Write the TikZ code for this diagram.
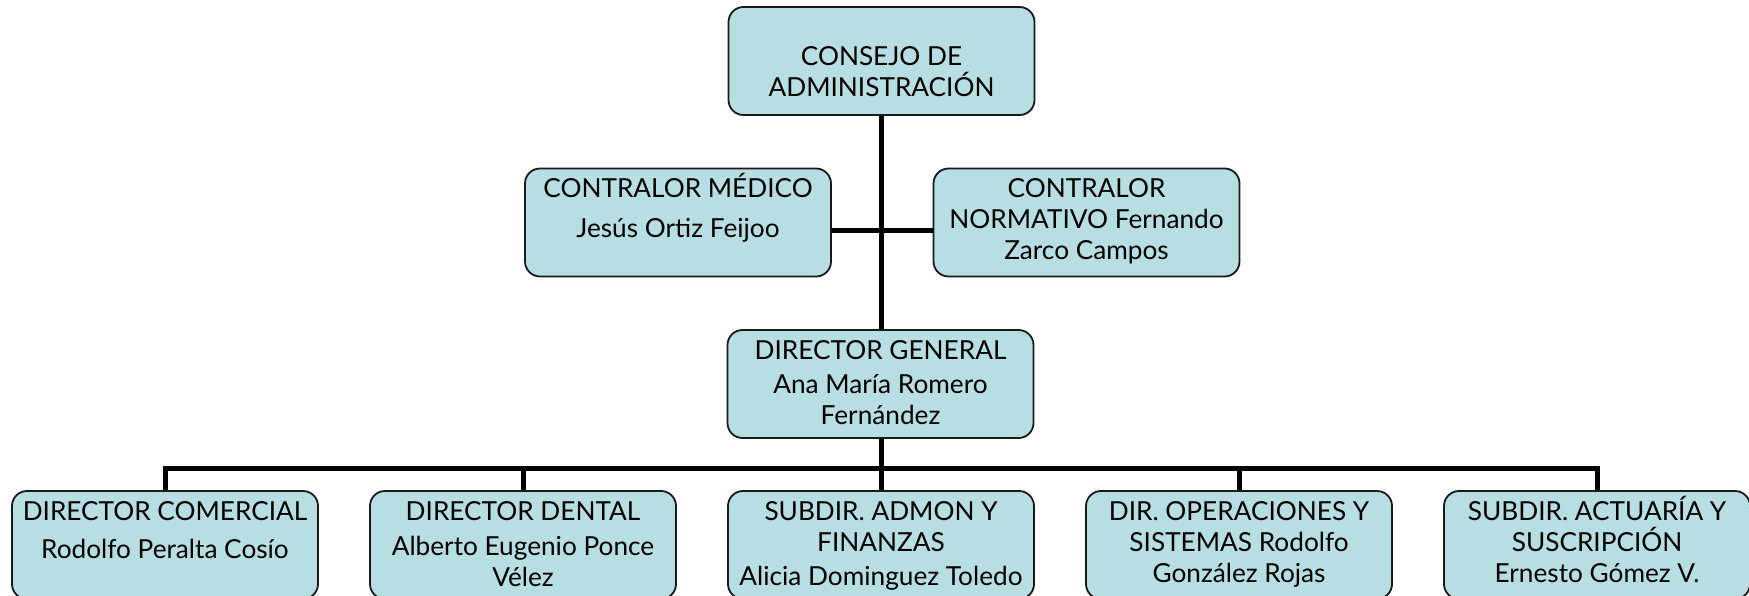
\documentclass[tikz,border=0pt]{standalone}
\usepackage{fontspec}
\setmainfont{Lato}
\usepackage{xcolor}
\usepackage{tikz}

\definecolor{boxfill}{RGB}{183,222,227}
\newcommand{\orgtxt}[2][14.5pt]{\parbox[t][54pt][t]{153pt}{\centering\fontsize{13.1pt}{15.5pt}\selectfont\rule{0pt}{#1}#2}}

\tikzset{
  orgbox/.style={rectangle,rounded corners=7.5pt,draw=black!90,line width=0.9pt,fill=boxfill,inner sep=0pt},
  conn/.style={line width=2.5pt}
}

\begin{document}
\begin{tikzpicture}[x=0.5pt,y=-0.5pt]
\clip (0,0) rectangle (1749,595);
\node (cons)  at ( 881.5, 61) [orgbox] {\orgtxt[29pt]{CONSEJO DE\\ADMINISTRACIÓN}};
\node (cmed)  at ( 678,  222.5) [orgbox] {\orgtxt{CONTRALOR MÉDICO\\[4.5pt]Jesús Ortiz Feijoo}};
\node (cnorm) at (1086.5,222.5) [orgbox] {\orgtxt{CONTRALOR\\NORMATIVO Fernando\\Zarco Campos}};
\node (dgen)  at ( 880.5,384) [orgbox] {\orgtxt{DIRECTOR GENERAL\\[1.5pt]Ana María Romero\\Fernández}};
\node (dcom)  at ( 165,  545) [orgbox] {\orgtxt{DIRECTOR COMERCIAL\\[3.5pt]Rodolfo Peralta Cosío}};
\node (dden)  at ( 523,  545) [orgbox] {\orgtxt{DIRECTOR DENTAL\\[2pt]Alberto Eugenio Ponce\\Vélez}};
\node (sadm)  at ( 881,  545) [orgbox] {\orgtxt{SUBDIR. ADMON Y\\FINANZAS\\[1.5pt]Alicia Dominguez Toledo}};
\node (dops)  at (1239,  545) [orgbox] {\orgtxt{DIR. OPERACIONES Y\\SISTEMAS Rodolfo\\González Rojas}};
\node (sact)  at (1597,  545) [orgbox] {\orgtxt{SUBDIR. ACTUARÍA Y\\SUSCRIPCIÓN\\Ernesto Gómez V.}};
\coordinate (ctl) at (881,230);
\coordinate (bus) at (881,468);
\draw[conn] (cons.south -| ctl) -- (dgen.north -| ctl);
\draw[conn] (cmed.east |- ctl) -- (cnorm.west |- ctl);
\draw[conn] (dgen.south -| bus) -- (bus);
\draw[conn] (dcom.north) |- (bus) -| (sact.north);
\foreach \n in {dden,sadm,dops}
  \draw[conn] (bus -| \n.north) -- (\n.north);
\end{tikzpicture}
\end{document}
